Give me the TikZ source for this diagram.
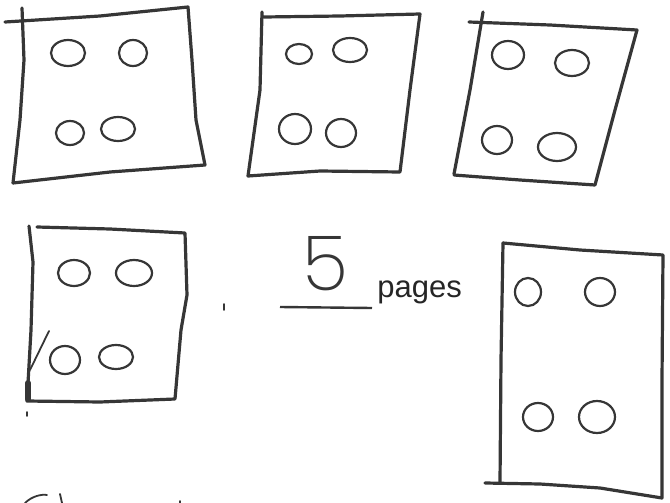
\documentclass[tikz,border=0pt]{standalone}
\usepackage{fontspec}
\setmainfont{Liberation Sans}
\newfontfamily\handfont{Poppins}[UprightFont=* ExtraLight]
\usepackage{xcolor}
\definecolor{ink}{HTML}{363636}
\begin{document}
\begin{tikzpicture}[x=0.5pt,y=-0.5pt,
  pageline/.style={draw=ink,line width=1.6pt,line cap=round,line join=round},
  dotring/.style={draw=ink,line width=1.1pt},
  speck/.style={draw=ink,line width=0.9pt,line cap=round}]
\useasboundingbox (0,0) rectangle (670,503);
% first row of pages
\draw[pageline] (5,22) -- (100,16) -- (188,7) -- (192,60) -- (196,120) -- (205,165) -- (110,172) -- (13,183);
\draw[pageline] (22,8) -- (24,60) -- (20,120) -- (13,183);
\draw[pageline] (262,12) -- (260,90) -- (248,176) -- (320,171) -- (400,172) -- (410,90) -- (420,14) -- (340,16) -- (264,17);
\draw[pageline] (469,22) -- (550,25) -- (637,30) -- (615,110) -- (595,185) -- (520,180) -- (454,175);
\draw[pageline] (483,12) -- (470,90) -- (454,174);
% second row of pages
\draw[pageline] (29,226) -- (33,262) -- (31,330) -- (27,401) -- (100,402) -- (175,399) -- (181,330) -- (187,295) -- (185,233) -- (110,229) -- (37,227);
\draw[pageline] (503,243) -- (580,250) -- (663,255) -- (662,380) -- (662,498) -- (600,488) -- (540,484) -- (485,483);
\draw[pageline] (503,243) -- (501,360) -- (500,483);
% dots
\foreach \cx/\cy/\rx/\ry in {68/53/17/13, 133/53/14/13, 70/133/14/12, 118/129/17/12,
  299/54/13/10, 350/50/17/12, 295/129/16/15, 341/133/15/14,
  508/55/16/14, 572/63/17/13, 497/140/15/14, 557/147/19/14,
  74/273/16/13, 134/273/18/13, 65/360/15/14, 116/357/17/12,
  528/292/13/14, 600/292/15/14, 538/417/15/14, 597/417/18/16}
  \draw[dotring] (\cx,\cy) ellipse [x radius=\rx, y radius=\ry];
% stray marks
\draw[speck] (49,331) -- (30,370);
\draw[draw=ink,line width=3pt,line cap=round] (28,383) -- (28,399);
\draw[speck] (27,412) -- (27,416);
\draw[speck] (224,304) -- (224,310);
\draw[speck] (25,503) .. controls (32,496) and (42,494) .. (47,495);
\draw[speck] (60,494) -- (62,503);
\draw[speck] (180,501) -- (180,503);
% count of pages
\coordinate (blankl) at (280,307);
\coordinate (blankr) at (372,308);
\draw[draw=ink,line width=1.2pt] (blankl) -- (blankr);
\node[text=ink,font=\handfont\fontsize{38}{38}\selectfont] (count) at (325,264) {5};
\node[anchor=base west,inner sep=0pt,text=black!85,font=\fontsize{15.5}{15.5}\selectfont] (unit) at (377,297) {pages};
\end{tikzpicture}
\end{document}
